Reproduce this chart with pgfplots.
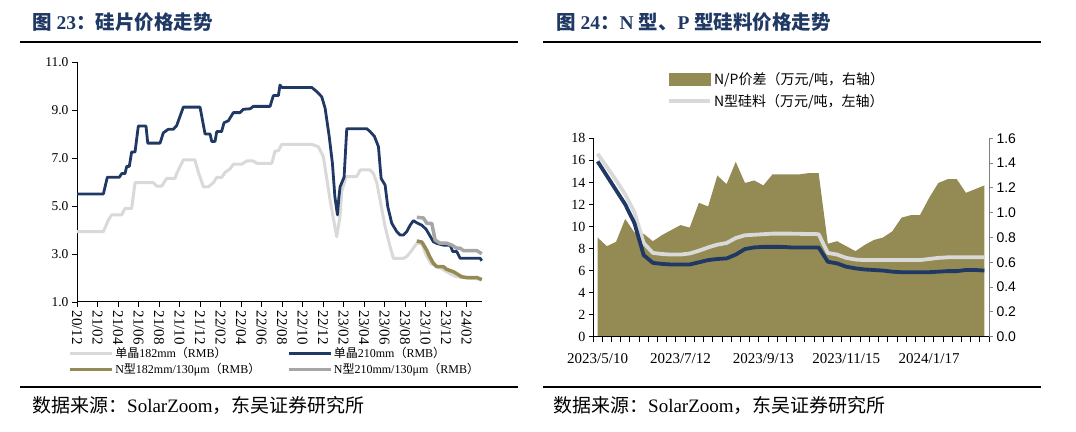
\documentclass[border=0pt]{standalone}
\usepackage{fontspec}
\setmainfont{Liberation Serif}
\newfontfamily\cjk{Noto Sans CJK SC}
\newfontfamily\arial{Liberation Sans}
\usepackage{pgfplots}
\pgfplotsset{compat=1.18}
\definecolor{navy}{HTML}{1F3864}
\definecolor{olivebar}{HTML}{948A54}
\definecolor{lgray}{HTML}{D9D9D9}
\definecolor{mgray}{HTML}{A6A6A6}
\definecolor{tblue}{HTML}{1F3864}
\newcommand{\zh}[1]{{\cjk #1}}

\begin{document}
\begin{tikzpicture}[x=1pt,y=1pt]
\useasboundingbox (0,0) rectangle (1076,431);

% titles and rules
\node[anchor=base west, inner sep=0pt, text=tblue, font=\fontsize{19.5}{19.5}\selectfont\bfseries]
  at (32,401) {\zh{图} 23\zh{：硅片价格走势}};
\node[anchor=base west, inner sep=0pt, text=tblue, font=\fontsize{19.5}{19.5}\selectfont\bfseries]
  at (556,401) {\zh{图} 24\zh{：}N \zh{型、}P \zh{型硅料价格走势}};
\draw[line width=2pt] (20,389) -- (518,389);
\draw[line width=2pt] (543,389) -- (1041,389);
\draw[line width=2pt] (20,44) -- (518,44);
\draw[line width=2pt] (543,44) -- (1041,44);
\node[anchor=west, inner sep=0pt, font=\fontsize{19}{19}\selectfont]
  at (32,26) {\zh{数据来源：}SolarZoom\zh{，东吴证券研究所}};
\node[anchor=west, inner sep=0pt, font=\fontsize{19}{19}\selectfont]
  at (553,26) {\zh{数据来源：}SolarZoom\zh{，东吴证券研究所}};

% ---------- left: wafer prices ----------
\begin{axis}[
    at={(77pt,129pt)}, anchor=south west,
    scale only axis, width=405pt, height=240pt,
    xmin=0, xmax=39.5, ymin=1, ymax=11,
    axis lines=left,
    axis line style={-, black, line width=1pt},
    xtick={0,2,...,38},
    xticklabels={20/12,21/02,21/04,21/06,21/08,21/10,21/12,22/02,22/04,22/06,22/08,22/10,22/12,23/02,23/04,23/06,23/08,23/10,23/12,24/02},
    ytick={1,3,5,7,9,11},
    tick align=outside, major tick length=5pt,
    tick style={black, line width=0.8pt},
    xticklabel style={rotate=-90, anchor=west, inner sep=3.5pt, font=\fontsize{15}{15}\selectfont},
    yticklabel style={font=\fontsize{13.5}{14}\selectfont,
      /pgf/number format/.cd, fixed, fixed zerofill, precision=1, assume math mode=true},
    legend columns=2,
    legend cell align=left,
    legend style={at={(-0.022,-0.183)}, anchor=north west, draw=none, fill=none,
      inner sep=0pt, row sep=1pt,
      font=\fontsize{12}{12}\selectfont,
      nodes={inner sep=1.5pt},
      /tikz/every even column/.append style={column sep=25pt}},
    legend image code/.code={\draw[#1] (0pt,0pt) -- (42pt,0pt);},
    clip=false,
]
\addplot[lgray, line width=3pt, line join=round] coordinates {
 (0,3.93) (2.57,3.93) (3.06,4.42) (3.38,4.63) (4.36,4.63) (4.68,4.9) (5.33,4.9)
 (5.66,5.97) (7.45,5.97) (7.77,5.83) (8.26,5.83) (8.75,6.15) (9.56,6.15) (9.72,6.35)
 (10.37,6.92) (11.5,6.92) (11.84,6.4) (12.33,5.8) (12.81,5.8) (13.3,5.97) (13.63,6.19)
 (14.11,6.19) (14.44,6.4) (14.93,6.55) (15.25,6.74) (16.07,6.74) (16.55,6.875)
 (17.2,6.875) (17.53,6.78) (19.0,6.78) (19.32,7.3) (19.64,7.3) (19.97,7.57)
 (22.89,7.57) (23.54,7.47) (24.03,7.05) (24.68,5.25) (25.33,3.72) (25.66,4.6)
 (25.82,5.6) (26.24,6.22) (27.28,6.22) (27.61,6.5) (28.59,6.5) (28.91,6.35)
 (29.24,5.97) (30.05,4.14) (30.54,3.3) (30.86,2.82) (31.84,2.82) (32.16,2.89)
 (32.65,3.15) (33.14,3.44) (33.63,3.44) (34.0,3.0) (34.5,2.6) (35.5,2.4)
 (36.5,2.15) (37.0,2.05) (38.0,2.0) (39.48,1.95)
};
\addlegendentry{\zh{单晶}182mm\zh{（}RMB\zh{）}}
\addplot[navy, line width=2.8pt, line join=round] coordinates {
 (0,5.5) (2.57,5.5) (2.96,6.2) (4.13,6.2) (4.36,6.35) (4.68,6.35) (4.85,6.65)
 (5.1,6.65) (5.33,7.25) (5.66,7.25) (5.98,8.33) (6.73,8.33) (6.9,7.62) (8.1,7.62)
 (8.42,8.05) (8.91,8.2) (9.4,8.2) (9.72,8.35) (10.37,9.12) (12.0,9.12) (12.49,8.0)
 (12.98,8.0) (13.14,7.69) (13.46,7.69) (13.63,8.1) (14.1,8.1) (14.34,8.47)
 (14.76,8.55) (15.25,8.89) (15.9,8.89) (16.23,9.03) (16.88,9.05) (17.2,9.15)
 (18.83,9.15) (19.15,9.6) (19.64,9.6) (19.8,10.04) (19.97,9.94) (22.89,9.94)
 (23.38,9.77) (23.87,9.55) (24.2,9.07) (24.6,7.89) (24.91,6.78) (25.15,5.39)
 (25.4,4.63) (25.55,5.39) (25.66,5.8) (26.05,6.2) (26.31,8.22) (28.26,8.22)
 (28.59,8.1) (29.01,7.9) (29.4,7.47) (29.66,6.15) (30.05,5.87) (30.31,4.97)
 (30.7,4.28) (31.19,3.93) (31.51,3.79) (31.84,3.79) (32.16,3.93) (32.49,4.2)
 (32.81,4.39) (33.14,4.3) (33.63,4.2) (34.05,4.03) (34.38,3.79) (34.76,3.51)
 (35.09,3.44) (35.74,3.37) (36.39,3.37) (36.65,3.1) (37.04,3.1) (37.37,2.82)
 (39.32,2.82) (39.48,2.72)
};
\addlegendentry{\zh{单晶}210mm\zh{（}RMB\zh{）}}
\addplot[olivebar, line width=3.5pt, line join=round] coordinates {
 (33.14,3.54) (33.63,3.5) (34.12,3.15) (34.38,2.9) (34.76,2.61) (35.09,2.47)
 (35.74,2.47) (36.06,2.36) (36.72,2.26) (37.53,2.05) (38.0,2.02) (39.0,2.02)
 (39.48,1.93)
};
\addlegendentry{N\zh{型}182mm/130μm\zh{（}RMB\zh{）}}
\addplot[mgray, line width=3.5pt, line join=round] coordinates {
 (33.14,4.53) (33.79,4.5) (34.12,4.28) (34.6,4.28) (34.93,3.58) (35.41,3.45)
 (36.06,3.45) (36.55,3.37) (37.04,3.24) (37.37,3.24) (37.69,3.14) (39.0,3.14)
 (39.48,3.01)
};
\addlegendentry{N\zh{型}210mm/130μm\zh{（}RMB\zh{）}}
\end{axis}

% ---------- right: N/P polysilicon ----------
\begin{axis}[
    at={(593pt,94.3pt)}, anchor=south west,
    scale only axis, width=396pt, height=198.4pt,
    xmin=-0.5, xmax=42.5, ymin=0, ymax=1.6,
    axis x line=none, axis y line*=right,
    axis line style={-, gray, line width=1pt},
    ytick={0,0.2,0.4,0.6,0.8,1.0,1.2,1.4,1.6},
    tick align=outside, major tick length=4pt,
    tick style={gray, line width=0.8pt},
    yticklabel style={font=\arial\fontsize{14}{14}\selectfont,
      /pgf/number format/.cd, fixed, fixed zerofill, precision=1, assume math mode=true},
]
\addplot[fill=olivebar, draw=none] coordinates {
 (0,0.80) (1,0.73) (2,0.765) (3,0.95) (4,0.84) (5,0.83) (6,0.77) (7,0.82)
 (8,0.86) (9,0.90) (10,0.88) (11,1.08) (12,1.05) (13,1.30) (14,1.23) (15,1.41)
 (16,1.24) (17,1.26) (18,1.22) (19,1.31) (20,1.31) (21,1.31) (22,1.31) (23,1.32)
 (24,1.32) (25,0.75) (26,0.77) (27,0.73) (28,0.69) (29,0.74) (30,0.78) (31,0.80)
 (32,0.85) (33,0.96) (34,0.98) (35,0.98) (36,1.12) (37,1.24) (38,1.27) (39,1.27)
 (40,1.16) (41,1.19) (42,1.22)
} \closedcycle;
\end{axis}

\begin{axis}[
    at={(593pt,94.3pt)}, anchor=south west,
    scale only axis, width=396pt, height=198.4pt,
    xmin=-0.5, xmax=42.5, ymin=0, ymax=18,
    axis x line*=bottom, axis y line*=left,
    axis line style={-, black, line width=1pt},
    xtick={0,9,18,27,36},
    xticklabels={2023/5/10,2023/7/12,2023/9/13,2023/11/15,2024/1/17},
    minor xtick={-0.5,0.5,...,42.5},
    ytick={0,2,...,18},
    tick align=outside, major tick length=4pt, minor tick length=5pt,
    tick style={black, line width=0.8pt},
    major x tick style={draw=none},
    xticklabel style={font=\fontsize{15}{15}\selectfont, yshift=-9pt},
    yticklabel style={font=\fontsize{14}{14}\selectfont,
      /pgf/number format/assume math mode=true},
    legend cell align=left,
    legend style={at={(0.187,1.345)}, anchor=north west, draw=none, fill=none,
      inner sep=0pt, row sep=5pt,
      font=\cjk\fontsize{14}{14}\selectfont,
      nodes={inner sep=2pt}},
    legend image code/.code={\draw[#1] (0pt,0pt) -- (41pt,0pt);},
]
\addlegendimage{legend image code/.code={\fill[olivebar] (0pt,-6pt) rectangle (41pt,6pt);}}
\addlegendentry{N/P价差（万元/吨，右轴）}
\addplot[lgray, line width=3.8pt, line join=round] coordinates {
 (0,16.6) (1,15.4) (2,14.2) (3,12.9) (4,11.3) (5,8.5) (6,7.6) (7,7.5) (8,7.45)
 (9,7.45) (10,7.55) (11,7.8) (12,8.1) (13,8.35) (14,8.5) (15,8.95) (16,9.2)
 (17,9.25) (18,9.3) (19,9.35) (20,9.35) (21,9.35) (22,9.33) (23,9.32) (24,9.3)
 (25,7.6) (26,7.45) (27,7.15) (28,7.0) (29,6.95) (30,6.95) (31,6.95) (32,6.95)
 (33,6.95) (34,6.95) (35,6.95) (36,7.05) (37,7.15) (38,7.2) (39,7.2) (40,7.2)
 (41,7.2) (42,7.2)
};
\addlegendentry{N型硅料（万元/吨，左轴）}
\addplot[navy, line width=3.8pt, line join=round, forget plot] coordinates {
 (0,15.9) (1,14.6) (2,13.3) (3,12.0) (4,10.3) (5,7.4) (6,6.7) (7,6.6) (8,6.55)
 (9,6.55) (10,6.55) (11,6.75) (12,6.95) (13,7.05) (14,7.1) (15,7.45) (16,7.95)
 (17,8.1) (18,8.15) (19,8.15) (20,8.15) (21,8.1) (22,8.1) (23,8.1) (24,8.1)
 (25,6.8) (26,6.65) (27,6.35) (28,6.2) (29,6.1) (30,6.05) (31,6.0) (32,5.9)
 (33,5.85) (34,5.85) (35,5.85) (36,5.85) (37,5.9) (38,5.95) (39,5.95) (40,6.05)
 (41,6.05) (42,6.0)
};
\end{axis}
\end{tikzpicture}
\end{document}
